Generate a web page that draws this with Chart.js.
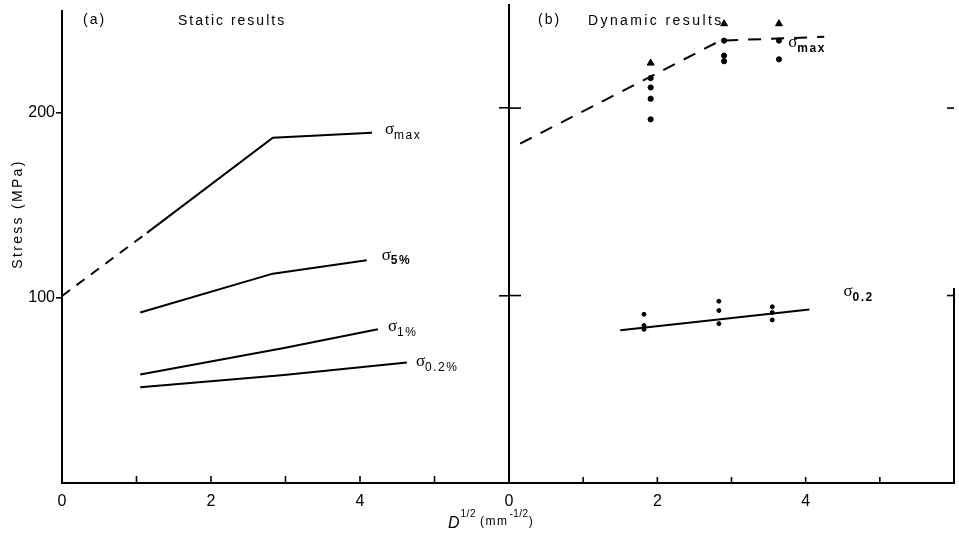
<!DOCTYPE html>
<html>
<head>
<meta charset="utf-8" />
<title>Stress (MPa) - static and dynamic results</title>
<style>
  body { margin: 0; background: #fff; }
  #wrap { position: relative; width: 959px; height: 546px; }
  #wrap canvas { position: absolute; left: 0; top: 0; }
</style>
</head>
<body>
<div id="wrap">
  <canvas id="left" width="959" height="546"></canvas>
  <canvas id="right" width="959" height="546"></canvas>
</div>
<script src="https://cdn.jsdelivr.net/npm/chart.js@4.4.0/dist/chart.umd.min.js"></script>
<script>
// (a) static results
const sMaxX = [0, 1.14, 2.83, 4.16];
const sMaxY = [101, 135, 186.4, 189];
const s5X = [1.05, 2.83, 4.09];
const s5Y = [92, 113, 120.3];
const s1X = [1.05, 2.98, 4.24];
const s1Y = [58.6, 72.9, 83];
const s02X = [1.05, 2.98, 4.63];
const s02Y = [51.7, 58.3, 65];

// (b) dynamic results
const dMaxFitX = [0.15, 2.85, 4.25];
const dMaxFitY = [181, 236, 238];
const dMaxTriX = [1.91, 2.9, 3.64];
const dMaxTriY = [224, 245, 245];
const dMaxDotX = [1.91, 1.91, 1.91, 1.91, 2.9, 2.9, 2.9, 3.64, 3.64];
const dMaxDotY = [216, 211, 205, 194, 236, 228, 225, 236, 226];
const d02FitX = [1.5, 4.05];
const d02FitY = [81.5, 92.5];
const d02DotX = [1.82, 1.82, 1.82, 2.83, 2.83, 2.83, 3.55, 3.55, 3.55];
const d02DotY = [90, 84, 82, 97, 92, 85, 94, 91, 87];

// axes
const xTickLabels = [0, 2, 4];
const xMinorTicks = [1, 2, 3, 4, 5];
const yTicks = [100, 200];

const pts = (xs, ys) => xs.map((x, i) => ({ x: x, y: ys[i] }));
const FONT = '"Liberation Sans", Arial, sans-serif';

function line(data, extra) {
  return Object.assign({
    data: data, showLine: true, borderColor: '#000', borderWidth: 2,
    pointRadius: 0, fill: false, tension: 0
  }, extra || {});
}
function marks(data, style, r) {
  return {
    data: data, showLine: false, pointStyle: style, pointRadius: r,
    backgroundColor: '#000', borderColor: '#000', borderWidth: 1
  };
}

function drawSigma(ctx, x, y, sub, bold) {
  ctx.textBaseline = 'middle';
  ctx.textAlign = 'left';
  ctx.letterSpacing = '0px';
  ctx.font = '17px "Liberation Serif", serif';
  ctx.fillText('σ', x, y);
  const w = ctx.measureText('σ').width;
  ctx.font = (bold ? 'bold ' : '') + '12px ' + FONT;
  ctx.letterSpacing = '1.5px';
  ctx.fillText(sub, x + w, y + 6);
}

function text(ctx, str, x, y, size, spacing, opts) {
  opts = opts || {};
  ctx.save();
  ctx.font = (opts.italic ? 'italic ' : '') + size + 'px ' + FONT;
  ctx.letterSpacing = (spacing || 0) + 'px';
  ctx.textBaseline = 'middle';
  ctx.textAlign = opts.align || 'left';
  ctx.translate(x, y);
  if (opts.rotate) ctx.rotate(opts.rotate);
  ctx.fillText(str, 0, 0);
  const w = ctx.measureText(str).width;
  ctx.restore();
  return w;
}

// short tick marks drawn inside the plot area
const innerTicks = (specs) => ({
  id: 'innerTicks',
  afterDraw(chart) {
    const ctx = chart.ctx, a = chart.chartArea;
    ctx.save();
    ctx.strokeStyle = '#000';
    ctx.lineWidth = 1.6;
    specs.forEach(s => {
      const sc = chart.scales[s.axis];
      s.values.forEach(v => {
        const p = sc.getPixelForValue(v);
        ctx.beginPath();
        if (s.axis === 'x') { ctx.moveTo(p, a.bottom); ctx.lineTo(p, a.bottom - s.len); }
        else if (s.side === 'right') { ctx.moveTo(a.right, p); ctx.lineTo(a.right - s.len, p); }
        else { ctx.moveTo(a.left, p); ctx.lineTo(a.left + s.len, p); }
        ctx.stroke();
      });
    });
    ctx.restore();
  }
});

// curve names next to the end of each line
const curveLabels = (list) => ({
  id: 'curveLabels',
  afterDatasetsDraw(chart) {
    const ctx = chart.ctx;
    ctx.save();
    ctx.fillStyle = '#000';
    list.forEach(l => {
      const d = chart.getDatasetMeta(l.ds).data;
      const p = d[d.length - 1];
      drawSigma(ctx, p.x + l.dx, p.y + l.dy, l.sub, l.bold);
    });
    ctx.restore();
  }
});

function axes(xOpts, yOpts) {
  return {
    x: Object.assign({
      type: 'linear', min: 0, max: 6,
      afterBuildTicks: s => { s.ticks = [0].concat(xMinorTicks).map(v => ({ value: v })); },
      afterFit: s => { s.height = 63; },
      ticks: {
        autoSkip: false, color: '#000', padding: 9,
        font: { family: FONT, size: 16 },
        callback: v => xTickLabels.includes(v) ? String(v) : null
      },
      grid: { drawOnChartArea: false, drawTicks: false },
      border: { color: '#000', width: 2 }
    }, xOpts || {}),
    y: Object.assign({
      type: 'linear', min: 0, max: 255,
      afterBuildTicks: s => { s.ticks = yTicks.map(v => ({ value: v })); },
      ticks: { color: '#000', padding: 1, font: { family: FONT, size: 16 } },
      grid: { drawOnChartArea: false, tickLength: 6, color: '#000', lineWidth: 1.6 },
      border: { color: '#000', width: 2 }
    }, yOpts || {})
  };
}

const baseOpts = {
  responsive: false, animation: false, events: [],
  plugins: { legend: { display: false }, tooltip: { enabled: false } }
};

// ---------- (a) static ----------
new Chart(document.getElementById('left'), {
  type: 'scatter',
  data: {
    datasets: [
      line(pts(sMaxX, sMaxY), { segment: { borderDash: c => c.p0DataIndex === 0 ? [10, 8] : undefined } }),
      line(pts(s5X, s5Y)),
      line(pts(s1X, s1Y)),
      line(pts(s02X, s02Y))
    ]
  },
  options: Object.assign({}, baseOpts, {
    layout: { padding: { left: 0, top: 4, right: 450, bottom: 0 } },
    scales: axes({}, { afterFit: s => { s.width = 62; } })
  }),
  plugins: [
    innerTicks([{ axis: 'x', values: xMinorTicks, len: 7 }]),
    curveLabels([
      { ds: 0, sub: 'max', dx: 13, dy: -3 },
      { ds: 1, sub: '5%', dx: 15, dy: -5, bold: true },
      { ds: 2, sub: '1%', dx: 10, dy: -3 },
      { ds: 3, sub: '0.2%', dx: 9, dy: -1 }
    ]),
    {
      id: 'leftText',
      afterDraw(chart) {
        const ctx = chart.ctx;
        ctx.fillStyle = '#000';
        text(ctx, '(a)', 83, 20, 14, 2);
        text(ctx, 'Static results', 178, 21, 14, 2);
        text(ctx, 'Stress (MPa)', 18, 214, 14, 2.3, { rotate: -Math.PI / 2, align: 'center' });
        // x axis title shared by both panels
        let x = 448;
        x += text(ctx, 'D', x, 524, 16, 0, { italic: true });
        x += text(ctx, '1/2', x + 1, 514, 10, 0.5) + 5;
        x += text(ctx, '(mm', x, 522, 12, 1.5);
        x += text(ctx, '-1/2', x + 1, 514, 10, 0.5) + 1;
        text(ctx, ')', x, 522, 12, 0);
      }
    }
  ]
});

// ---------- (b) dynamic ----------
new Chart(document.getElementById('right'), {
  type: 'scatter',
  data: {
    datasets: [
      line(pts(dMaxFitX, dMaxFitY), { borderDash: [13, 10] }),
      marks(pts(dMaxTriX, dMaxTriY), 'triangle', 4),
      marks(pts(dMaxDotX, dMaxDotY), 'circle', 2.6),
      line(pts(d02FitX, d02FitY)),
      marks(pts(d02DotX, d02DotY), 'circle', 2)
    ]
  },
  options: Object.assign({}, baseOpts, {
    layout: { padding: { left: 509, top: 4, right: 2, bottom: 0 } },
    scales: axes({}, {
      afterFit: s => { s.width = 0; },
      ticks: { display: false },
      grid: { drawOnChartArea: false, tickLength: 10, color: '#000', lineWidth: 1.6 }
    })
  }),
  plugins: [
    innerTicks([
      { axis: 'x', values: xMinorTicks, len: 6 },
      { axis: 'y', values: yTicks, len: 12 },
      { axis: 'y', side: 'right', values: yTicks, len: 7 }
    ]),
    curveLabels([
      { ds: 0, sub: 'max', dx: -36, dy: 6, bold: true },
      { ds: 3, sub: '0.2', dx: 34, dy: -18, bold: true }
    ]),
    {
      id: 'rightText',
      afterDraw(chart) {
        const ctx = chart.ctx, a = chart.chartArea, y = chart.scales.y;
        ctx.fillStyle = '#000';
        text(ctx, '(b)', 538, 20, 14, 2);
        text(ctx, 'Dynamic results', 588, 21, 14, 2.4);
        // right frame edge (lower part visible in the original)
        ctx.save();
        ctx.strokeStyle = '#000';
        ctx.lineWidth = 2;
        ctx.beginPath();
        ctx.moveTo(a.right, y.getPixelForValue(0));
        ctx.lineTo(a.right, y.getPixelForValue(104));
        ctx.stroke();
        ctx.restore();
      }
    }
  ]
});
</script>
</body>
</html>
